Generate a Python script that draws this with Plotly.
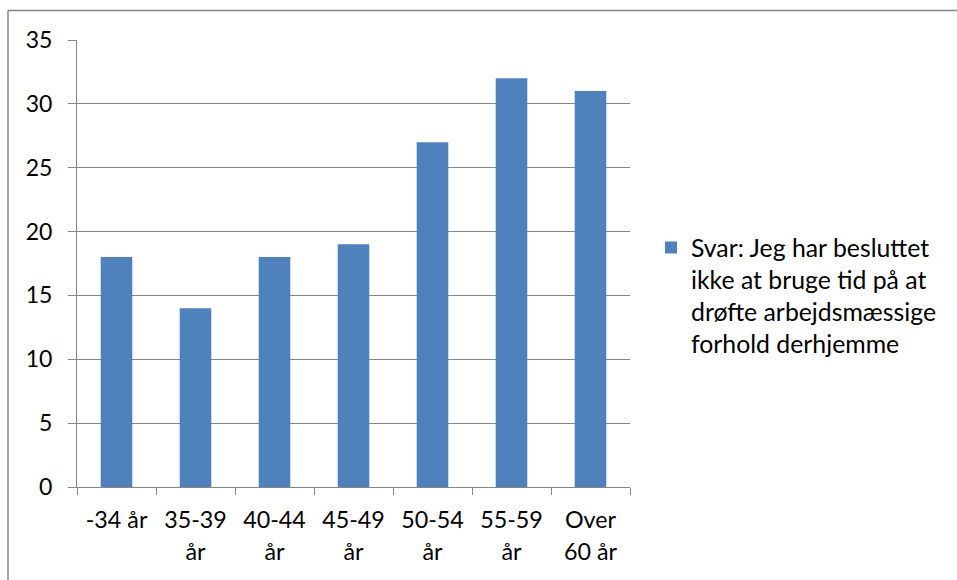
import plotly.graph_objects as go

categories = ["-34 år", "35-39<br>år", "40-44<br>år", "45-49<br>år", "50-54<br>år", "55-59<br>år", "Over<br>60 år"]
values = [18, 14, 18, 19, 27, 32, 31]
series_name = "Svar: Jeg har besluttet<br>ikke at bruge tid på at<br>drøfte arbejdsmæssige<br>forhold derhjemme"
y_ticks = [0, 5, 10, 15, 20, 25, 30, 35]

FONT = "Lato, 'Open Sans', sans-serif"
GRID = "#868686"
BAR = "#4F81BD"

def small(s, size):
    return "<br>".join(f'<span style="font-size:{size}px">{p}</span>' for p in s.split("<br>"))

fig = go.Figure()
fig.add_trace(go.Bar(
    x=categories, y=values, name=small(series_name, 24.8),
    marker=dict(color=BAR, line=dict(width=0)),
    showlegend=True,
))

W, H = 957, 580
L, R, T, B = 77, 957 - 630, 40, 580 - 487
pw, ph = W - L - R, H - T - B

fig.update_layout(
    width=W, height=H,
    margin=dict(l=L, r=R, t=T, b=B, pad=0),
    paper_bgcolor="white", plot_bgcolor="white",
    font=dict(family=FONT, color="black", size=22),
    bargap=0.6,
    showlegend=True,
    legend=dict(
        x=(651 - L) / pw, xanchor="left",
        y=(487 - 225) / ph, yanchor="top",
        valign="top",
        font=dict(size=24.6, family=FONT, color="black"),
        bgcolor="rgba(0,0,0,0)",
    ),
    xaxis=dict(
        type="category",
        tickmode="array",
        tickvals=categories,
        ticktext=[small(c, 23.3) for c in categories],
        tickson="boundaries",
        showgrid=False, zeroline=False,
        showline=True, linecolor=GRID, linewidth=1,
        ticks="outside", ticklen=7, tickcolor=GRID, tickwidth=1,
        tickfont=dict(size=24.6, family=FONT, color="black"),
        ticklabelstandoff=10,
    ),
    yaxis=dict(
        range=[0, 35], tickmode="array", tickvals=y_ticks,
        showgrid=True, gridcolor=GRID, gridwidth=1,
        zeroline=False,
        showline=True, linecolor=GRID, linewidth=1,
        ticks="outside", ticklen=8, tickcolor=GRID, tickwidth=1,
        tickfont=dict(size=23, family=FONT, color="black"),
        ticklabelstandoff=11,
    ),
)

# chart-area border (top and left edges visible)
bx = (8 - L) / pw
by = (487 - 10.5) / ph
fig.add_shape(type="line", xref="paper", yref="paper", x0=bx, x1=bx, y0=-0.5, y1=by,
              line=dict(color=GRID, width=1.5))
fig.add_shape(type="line", xref="paper", yref="paper", x0=bx, x1=2.0, y0=by, y1=by,
              line=dict(color=GRID, width=1.5))

fig.write_html("out.html")
